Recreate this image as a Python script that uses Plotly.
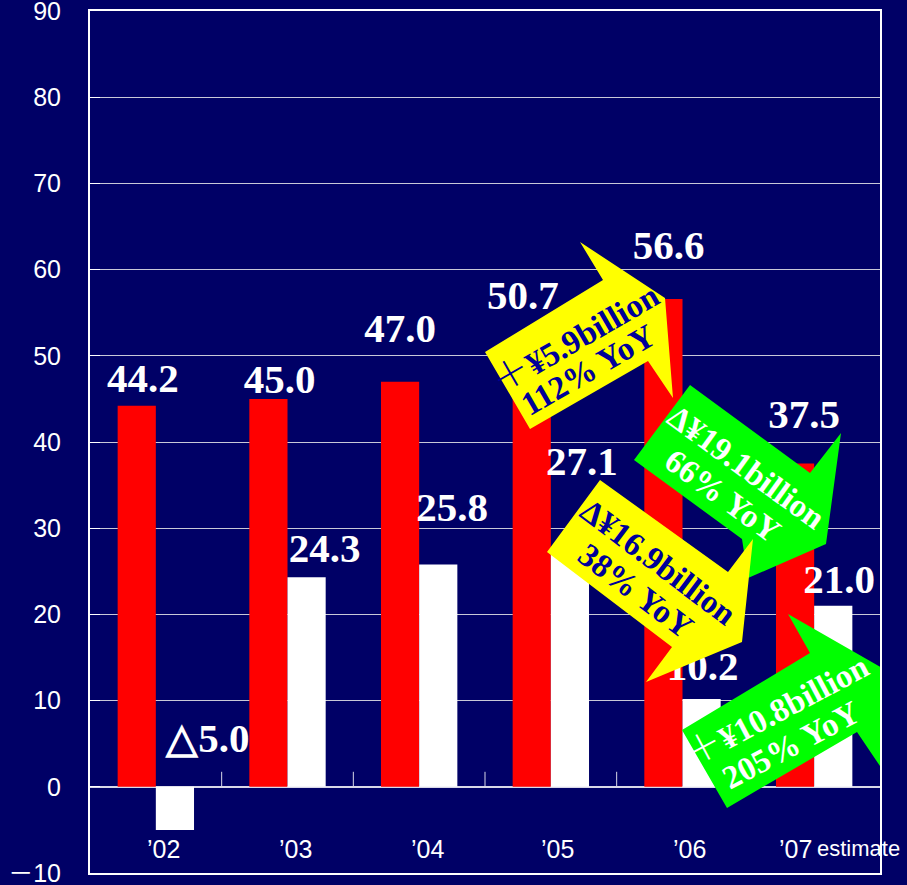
import plotly.graph_objects as go

# ---- data ---------------------------------------------------------------
years = ["’02", "’03", "’04", "’05", "’06", "’07"]
red_values = [44.2, 45.0, 47.0, 50.7, 56.6, 37.5]
white_values = [-5.0, 24.3, 25.8, 27.1, 10.2, 21.0]
y_tick_values = [-10, 0, 10, 20, 30, 40, 50, 60, 70, 80, 90]
y_tick_labels = ["－10", "0", "10", "20", "30", "40", "50", "60", "70", "80", "90"]
estimate_note = "estimate"
callout_lines = [
    ("＋", "¥5.9billion", "112% YoY"),
    ("Δ", "¥19.1billion", "66% YoY"),
    ("Δ", "¥16.9billion", "38% YoY"),
    ("＋", "¥10.8billion", "205% YoY"),
]

# ---- canvas geometry ----------------------------------------------------
W, H = 907, 885
ML, MR, MT, MB = 90, 27, 11, 12
X_MIN, X_MAX = -0.5, 5.5
Y_MIN, Y_MAX = -10, 90
PX_X = (W - ML - MR) / (X_MAX - X_MIN)   # pixels per category
PX_Y = (H - MT - MB) / (Y_MAX - Y_MIN)   # pixels per unit


def data_x(px):
    return X_MIN + (px - ML) / PX_X


def data_y(py):
    return Y_MAX - (py - MT) / PX_Y


def fmt(v):
    return ("△" if v < 0 else "") + f"{abs(v):.1f}"


NAVY = "#000066"
RED = "#FF0000"
WHITE = "#FFFFFF"
YELLOW = "#FFFF00"
GREEN = "#00FF00"
DARK_TEXT = "#000099"
SERIF = "Liberation Serif, Times New Roman, serif"
SANS = "Liberation Sans, Arial, Noto Sans CJK JP, sans-serif"

# value-label offsets: horizontal from category centre, vertical above bar end (px)
red_label_dx = [-13, -8, -19, -28, -14, -10]
red_label_dy = [24, 16, 50, 51, 50, 46]
white_label_dx = [52, 37, 33, 31, 20, 25]
white_label_dy = [45, 26, 54, 88, 29, 23]

# category-label shifts (px)
year_label_dx = [8, 8, 8, 7, 7, -19]
estimate_dx = 44

fig = go.Figure()

xs = list(range(len(years)))
fig.add_trace(go.Bar(x=xs, y=red_values, marker=dict(color=RED, line=dict(width=0)),
                     hoverinfo="skip", showlegend=False))
fig.add_trace(go.Bar(x=xs, y=white_values, marker=dict(color=WHITE, line=dict(width=0)),
                     hoverinfo="skip", showlegend=False))

# value labels (drawn in the trace layer so callouts can overlap them)
lab_x, lab_y, lab_t = [], [], []
for i, v in enumerate(red_values):
    lab_x.append(i + red_label_dx[i] / PX_X)
    lab_y.append(max(v, 0) + red_label_dy[i] / PX_Y)
    lab_t.append(fmt(v))
for i, v in enumerate(white_values):
    lab_x.append(i + white_label_dx[i] / PX_X)
    lab_y.append(max(v, 0) + white_label_dy[i] / PX_Y)
    lab_t.append(fmt(v))
fig.add_trace(go.Scatter(x=lab_x, y=lab_y, text=lab_t, mode="text",
                         textposition="middle center",
                         textfont=dict(family=SERIF, size=41, color=WHITE, weight="bold"),
                         hoverinfo="skip", showlegend=False))

shapes = []
# small tick marks on the zero line between categories
for k in range(len(years) - 1):
    shapes.append(dict(type="line", xref="x", yref="y", x0=k + 0.5, x1=k + 0.5,
                       y0=0, y1=15 / PX_Y, line=dict(color="#d8d8e8", width=1),
                       layer="below"))

# callout arrows (outline points in pixels)
callouts = [
    dict(fill=YELLOW, color=DARK_TEXT, angle=-30,
         pts=[(485, 352), (603, 280), (580, 242), (665, 298), (673, 398), (648, 361), (530, 429)],
         centers=[(573, 334), (588, 370)]),
    dict(fill=GREEN, color=WHITE, angle=36,
         pts=[(690, 385), (810, 473), (841, 433), (826, 544), (748, 578), (742, 539), (634, 460)],
         centers=[(746, 467), (723, 496)]),
    dict(fill=YELLOW, color=DARK_TEXT, angle=37,
         pts=[(600, 480), (728, 572), (753, 539), (742, 642), (646, 682), (672, 647), (547, 552)],
         centers=[(658, 562), (636, 591)]),
    dict(fill=GREEN, color=WHITE, angle=-28,
         pts=[(682, 730), (810, 653), (788, 614), (882, 668), (884, 772), (857, 732), (727, 808)],
         centers=[(774, 706), (791, 745)]),
]

annotations = []
for c, (sign, amount, ratio) in zip(callouts, callout_lines):
    path = "M " + " L ".join(f"{data_x(px):.4f},{data_y(py):.4f}" for px, py in c["pts"]) + " Z"
    shapes.append(dict(type="path", xref="x", yref="y", path=path,
                       fillcolor=c["fill"], line=dict(width=0), layer="above"))
    if sign == "＋":
        head = ("<span style='font-family:Noto Sans CJK JP;font-weight:300;"
                "font-size:38px'>" + sign + "</span>")
    else:
        head = sign
    for (cx, cy), txt in zip(c["centers"], (head + amount, ratio)):
        annotations.append(dict(x=data_x(cx), y=data_y(cy), xref="x", yref="y",
                                text=txt, showarrow=False, textangle=c["angle"],
                                xanchor="center", yanchor="middle",
                                font=dict(family=SERIF, size=33, color=c["color"], weight="bold")))

# category labels
for i, yr in enumerate(years):
    annotations.append(dict(x=i, y=-7.2, xref="x", yref="y", text=yr, showarrow=False,
                            xshift=year_label_dx[i], xanchor="center", yanchor="middle",
                            font=dict(family=SANS, size=25, color=WHITE)))
annotations.append(dict(x=len(years) - 1, y=-7.2, xref="x", yref="y", text=estimate_note,
                        showarrow=False, xshift=estimate_dx, xanchor="center", yanchor="middle",
                        font=dict(family=SANS, size=22, color=WHITE)))

fig.update_layout(
    width=W, height=H,
    margin=dict(l=ML, r=MR, t=MT, b=MB, pad=0, autoexpand=False),
    paper_bgcolor=NAVY, plot_bgcolor=NAVY,
    barmode="group", bargap=0.42, bargroupgap=0,
    shapes=shapes, annotations=annotations,
    xaxis=dict(range=[X_MIN, X_MAX], showgrid=False, zeroline=False, automargin=False,
               showticklabels=False, ticks="", showline=True, mirror=True,
               linecolor=WHITE, linewidth=2, fixedrange=True),
    yaxis=dict(range=[Y_MIN, Y_MAX], tickvals=y_tick_values, ticktext=y_tick_labels,
               automargin=False,
               showgrid=True, gridcolor="#c8c8d8", gridwidth=1,
               zeroline=True, zerolinecolor="#d8d8e8", zerolinewidth=1.5,
               showline=True, mirror=True, linecolor=WHITE, linewidth=2,
               ticks="inside", ticklen=10, tickcolor=WHITE, tickwidth=1,
               ticklabelstandoff=22, ticklabeloverflow="allow",
               tickfont=dict(family=SANS, size=25, color=WHITE), fixedrange=True),
    showlegend=False,
)

fig.write_html("out.html", config=dict(displayModeBar=False))
